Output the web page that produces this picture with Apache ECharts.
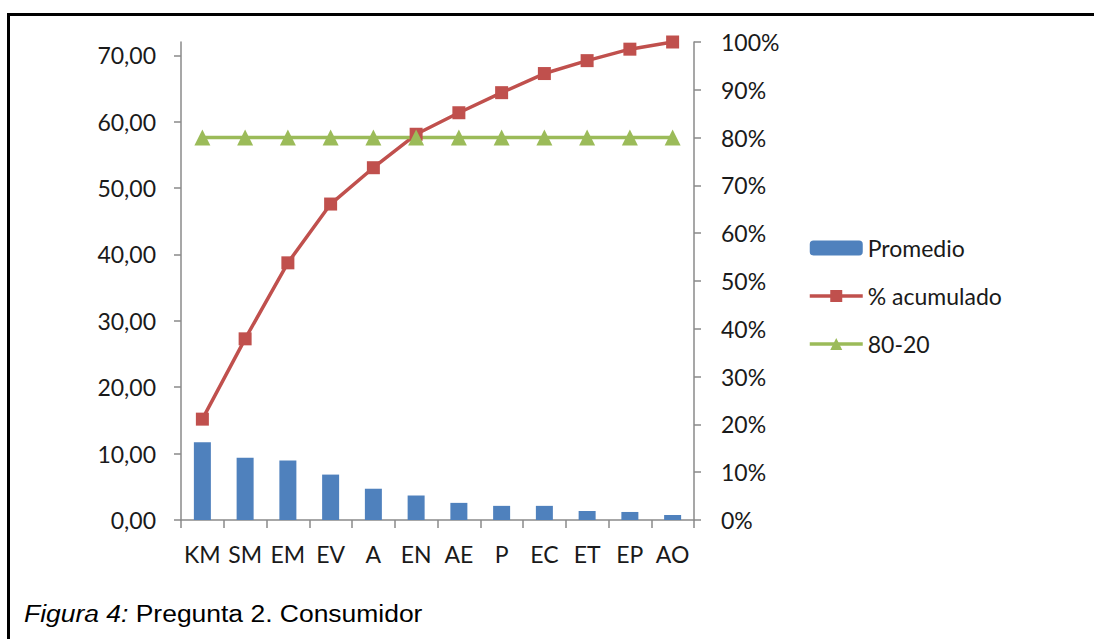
<!DOCTYPE html>
<html>
<head>
<meta charset="utf-8">
<script src="https://cdn.jsdelivr.net/npm/echarts@6/dist/echarts.min.js"></script>
<style>
  html, body { margin: 0; padding: 0; background: #fff; }
  #wrap { position: relative; width: 1094px; height: 639px; overflow: hidden; background: #fff; }
  #chart { position: absolute; left: 0; top: 0; width: 1094px; height: 639px; }
  #frame { position: absolute; left: 7px; top: 13px; right: -10px; bottom: -10px;
           border-top: 3px solid #000; border-left: 3px solid #000; pointer-events: none; }
  #caption { position: absolute; left: 24px; top: 603px; font-family: "Liberation Sans", Arial, sans-serif;
             font-size: 23px; line-height: 23px; color: #000; white-space: nowrap;
             transform: scaleX(1.15); transform-origin: 0 0; }
</style>
</head>
<body>
<div id="wrap">
  <div id="chart"></div>
  <div id="frame"></div>
  <div id="caption"><i>Figura 4:</i> Pregunta 2. Consumidor</div>
</div>
<script>
// ---- data ----
var categories = ["KM", "SM", "EM", "EV", "A", "EN", "AE", "P", "EC", "ET", "EP", "AO"];
var promedio = [11.70, 9.37, 8.97, 6.84, 4.71, 3.69, 2.58, 2.13, 2.13, 1.36, 1.21, 0.75];
var acumulado = [0.211, 0.379, 0.538, 0.661, 0.737, 0.807, 0.852, 0.894, 0.934, 0.961, 0.985, 1.00];
var linea8020 = [0.80, 0.80, 0.80, 0.80, 0.80, 0.80, 0.80, 0.80, 0.80, 0.80, 0.80, 0.80];
var leftTicks = [0, 10, 20, 30, 40, 50, 60, 70];
var seriesNames = ["Promedio", "% acumulado", "80-20"];

var FONT = "Lato";
var TXT = "#1a1a1a";
var AX = "#8a8a8a";

var chart = echarts.init(document.getElementById('chart'), null, { renderer: 'svg' });
chart.setOption({
  animation: false,
  backgroundColor: 'transparent',
  grid: { left: 181, right: 400, top: 42, bottom: 119, containLabel: false },
  legend: {
    orient: 'vertical',
    left: 808,
    top: 236,
    padding: 0,
    itemWidth: 53,
    itemHeight: 15,
    itemGap: 24,
    textStyle: { fontFamily: FONT, fontSize: 23, color: TXT, lineHeight: 24 },
    data: [
      { name: seriesNames[0] },
      { name: seriesNames[1], lineStyle: { width: 3.5 } },
      { name: seriesNames[2], lineStyle: { width: 3.5 } }
    ]
  },
  xAxis: {
    type: 'category',
    data: categories,
    axisLine: { lineStyle: { color: AX, width: 1.5 } },
    axisTick: { show: true, length: 8, lineStyle: { color: AX, width: 1.5 } },
    axisLabel: { fontFamily: FONT, fontSize: 23, color: TXT, margin: 22, interval: 0 }
  },
  yAxis: [
    {
      type: 'value',
      min: 0, max: 72, interval: 10,
      axisLine: { show: true, lineStyle: { color: AX, width: 1.5 } },
      axisTick: { show: true, length: 7, customValues: leftTicks, lineStyle: { color: AX, width: 1.5 } },
      splitLine: { show: false },
      axisLabel: {
        fontFamily: FONT, fontSize: 23, color: TXT, margin: 25,
        customValues: leftTicks,
        formatter: function (v) { return v.toFixed(2).replace('.', ','); }
      }
    },
    {
      type: 'value',
      position: 'right',
      min: 0, max: 1, interval: 0.1,
      axisLine: { show: true, lineStyle: { color: AX, width: 1.5 } },
      axisTick: { show: true, length: 7, lineStyle: { color: AX, width: 1.5 } },
      splitLine: { show: false },
      axisLabel: {
        fontFamily: FONT, fontSize: 23, color: TXT, margin: 27,
        formatter: function (v) { return Math.round(v * 100) + '%'; }
      }
    }
  ],
  series: [
    {
      name: seriesNames[0], type: 'bar', yAxisIndex: 0, data: promedio,
      barWidth: 17,
      itemStyle: { color: '#4F81BD' }
    },
    {
      name: seriesNames[1], type: 'line', yAxisIndex: 1, data: acumulado,
      symbol: 'rect', symbolSize: 13,
      itemStyle: { color: '#C0504D' },
      lineStyle: { color: '#C0504D', width: 3.5 }
    },
    {
      name: seriesNames[2], type: 'line', yAxisIndex: 1, data: linea8020,
      symbol: 'triangle', symbolSize: 16,
      itemStyle: { color: '#9BBB59' },
      lineStyle: { color: '#9BBB59', width: 3.5 }
    }
  ]
});
</script>
</body>
</html>
